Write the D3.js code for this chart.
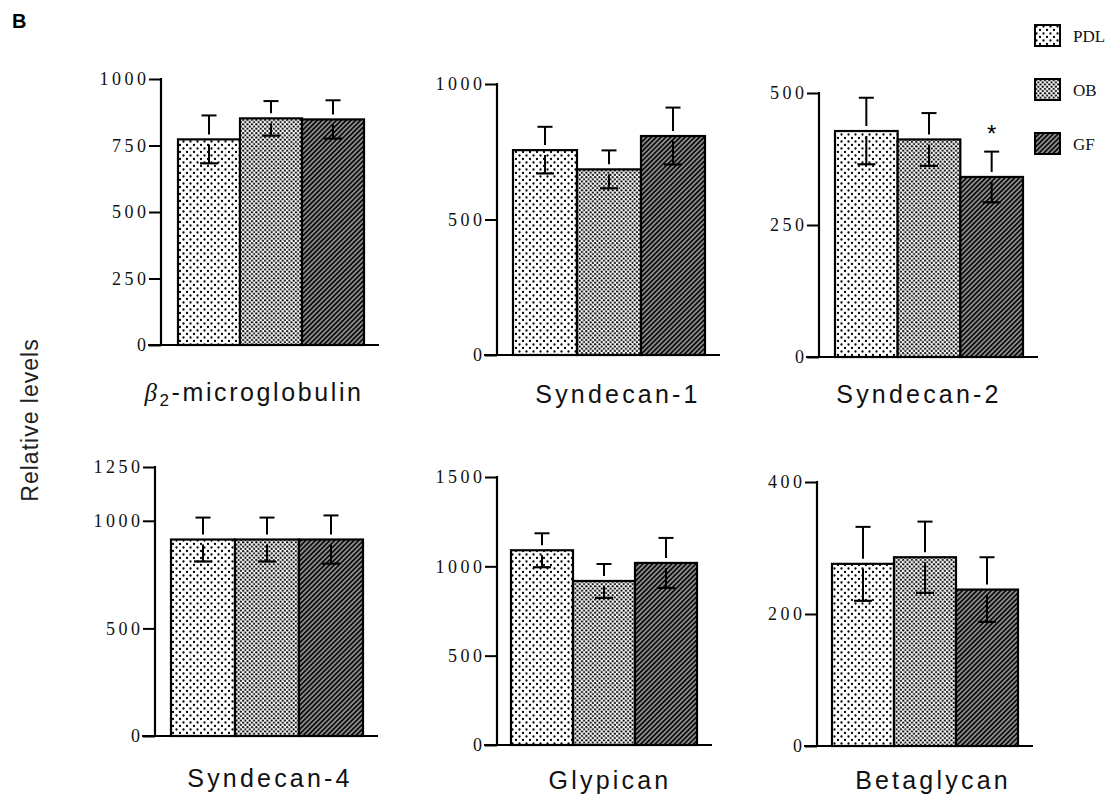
<!DOCTYPE html>
<html>
<head>
<meta charset="utf-8">
<script src="https://cdn.jsdelivr.net/npm/d3@7"></script>
<style>
  body { margin: 0; background: #fff; }
  svg { display: block; }
  .tick-label { font-family: "Liberation Serif", serif; font-size: 18px; letter-spacing: 3.5px; fill: #111; }
  .cat-label { font-family: "Liberation Sans", Arial, sans-serif; font-size: 25px; letter-spacing: 3.2px; fill: #111; }
  .legend-label { font-family: "Liberation Serif", serif; font-size: 17px; fill: #111; }
</style>
</head>
<body>
<svg width="1116" height="797"></svg>
<script>
// Data
const genes = ["β2-microglobulin", "Syndecan-1", "Syndecan-2", "Syndecan-4", "Glypican", "Betaglycan"];
const groups = ["PDL", "OB", "GF"];
const pdl = [773, 756, 428, 913, 1090, 276];
const ob = [852, 685, 412, 913, 918, 286];
const gf = [848, 808, 341, 913, 1019, 237];
const pdlErr = [90, 86, 63, 102, 95, 56];
const obErr = [65, 70, 50, 102, 95, 54];
const gfErr = [72, 105, 48, 112, 140, 49];
const yMax = [1000, 1000, 500, 1250, 1500, 400];
const yTicks = [
    [0, 250, 500, 750, 1000],
    [0, 500, 1000],
    [0, 250, 500],
    [0, 500, 1000, 1250],
    [0, 500, 1000, 1500],
    [0, 200, 400]
];
const starred = [[], [], ["GF"], [], [], []];

// Panel geometry (pixels)
const panels = [
    {axisX: 161, y0: 345, yTop: 79,  barX0: 178, barX1: 364, labelX: 254, labelY: 401},
    {axisX: 497, y0: 355, yTop: 84,  barX0: 513, barX1: 705, labelX: 618, labelY: 403},
    {axisX: 819, y0: 357, yTop: 93,  barX0: 835, barX1: 1023, labelX: 919, labelY: 403},
    {axisX: 155, y0: 736, yTop: 467, barX0: 171, barX1: 363, labelX: 270, labelY: 787},
    {axisX: 497, y0: 745, yTop: 477, barX0: 511, barX1: 697, labelX: 610, labelY: 789},
    {axisX: 817, y0: 746, yTop: 482, barX0: 832, barX1: 1018, labelX: 933, labelY: 789}
];

const svg = d3.select("svg");
const defs = svg.append("defs");

// fill patterns
const pPdl = defs.append("pattern").attr("id", "pat-PDL")
    .attr("patternUnits", "userSpaceOnUse").attr("width", 7).attr("height", 7);
pPdl.append("rect").attr("width", 7).attr("height", 7).attr("fill", "#fff");
pPdl.append("circle").attr("cx", 1.5).attr("cy", 1.5).attr("r", 1.15).attr("fill", "#000");
pPdl.append("circle").attr("cx", 5).attr("cy", 5).attr("r", 1.15).attr("fill", "#000");

const pOb = defs.append("pattern").attr("id", "pat-OB")
    .attr("patternUnits", "userSpaceOnUse").attr("width", 4.4).attr("height", 4.4);
pOb.append("rect").attr("width", 4.4).attr("height", 4.4).attr("fill", "#fff");
pOb.append("circle").attr("cx", 1.1).attr("cy", 1.1).attr("r", 1.1).attr("fill", "#000");
pOb.append("circle").attr("cx", 3.3).attr("cy", 3.3).attr("r", 1.1).attr("fill", "#000");

const pGf = defs.append("pattern").attr("id", "pat-GF")
    .attr("patternUnits", "userSpaceOnUse").attr("width", 3.4).attr("height", 3.4)
    .attr("patternTransform", "rotate(45)");
pGf.append("rect").attr("width", 3.4).attr("height", 3.4).attr("fill", "#0d0d0d");
pGf.append("line").attr("x1", 1.7).attr("x2", 1.7).attr("y1", 0).attr("y2", 3.4)
    .attr("stroke", "#fff").attr("stroke-width", 0.9);

const seriesVals = {PDL: pdl, OB: ob, GF: gf};
const seriesErr = {PDL: pdlErr, OB: obErr, GF: gfErr};

genes.forEach((gene, i) => {
    const p = panels[i];
    const g = svg.append("g");

    const x = d3.scaleBand().domain(groups).range([p.barX0, p.barX1]).padding(0);
    const y = d3.scaleLinear().domain([0, yMax[i]]).range([p.y0, p.yTop]);

    const rows = groups.map(k => ({group: k, value: seriesVals[k][i], err: seriesErr[k][i]}));

    // bars
    g.selectAll(".bar")
        .data(rows)
        .enter()
        .append("rect")
        .attr("x", d => x(d.group))
        .attr("y", d => y(d.value))
        .attr("width", x.bandwidth())
        .attr("height", d => p.y0 - y(d.value))
        .attr("fill", d => `url(#pat-${d.group})`)
        .attr("stroke", "#000")
        .attr("stroke-width", 2.2);

    // error bars, with a small gap around the bar top
    const gap = 5;
    rows.forEach(d => {
        const cx = x(d.group) + x.bandwidth() / 2;
        const yt = y(d.value + d.err), yb = y(d.value - d.err), ym = y(d.value);
        g.append("line").attr("x1", cx).attr("x2", cx).attr("y1", yt).attr("y2", ym - gap)
            .attr("stroke", "#000").attr("stroke-width", 2);
        g.append("line").attr("x1", cx - 7.5).attr("x2", cx + 7.5).attr("y1", yt).attr("y2", yt)
            .attr("stroke", "#000").attr("stroke-width", 2);
        g.append("line").attr("x1", cx).attr("x2", cx).attr("y1", ym + gap).attr("y2", yb)
            .attr("stroke", "#000").attr("stroke-width", 2);
        g.append("line").attr("x1", cx - 9).attr("x2", cx + 9).attr("y1", yb).attr("y2", yb)
            .attr("stroke", "#000").attr("stroke-width", 2.2);
        if (starred[i].includes(d.group)) {
            g.append("text").attr("x", cx).attr("y", yt - 10)
                .attr("text-anchor", "middle")
                .style("font-family", "Liberation Sans, sans-serif")
                .style("font-size", "24px")
                .text("*");
        }
    });

    // y axis
    const yAxis = d3.axisLeft(y).tickValues(yTicks[i]).tickSize(12).tickPadding(3).tickFormat(d3.format("d"));
    const ax = g.append("g").attr("transform", `translate(${p.axisX},0)`).call(yAxis);
    ax.select(".domain").remove();
    ax.selectAll(".tick line").attr("stroke", "#000").attr("stroke-width", 2);
    ax.selectAll(".tick text").attr("class", "tick-label").attr("dx", "3.5px");
    g.append("line")
        .attr("x1", p.axisX).attr("x2", p.axisX)
        .attr("y1", y(yMax[i]) - 1).attr("y2", p.y0)
        .attr("stroke", "#000").attr("stroke-width", 2.2);

    // baseline
    g.append("line")
        .attr("x1", p.axisX - 13).attr("x2", p.barX1 + 15)
        .attr("y1", p.y0).attr("y2", p.y0)
        .attr("stroke", "#000").attr("stroke-width", 2.2);

    // category label
    const lab = g.append("text").attr("class", "cat-label")
        .attr("x", p.labelX).attr("y", p.labelY).attr("text-anchor", "middle");
    if (gene.startsWith("β2")) {
        lab.style("letter-spacing", "2.6px");
        lab.append("tspan").style("font-family", "Liberation Serif, serif").style("font-style", "italic").text("β");
        lab.append("tspan").attr("dy", 5).style("font-size", "17px").text("2");
        lab.append("tspan").attr("dy", -5).text(gene.slice(2));
    } else {
        lab.text(gene);
    }
});

// y title
svg.append("text")
    .attr("transform", "translate(38,420) rotate(-90)")
    .attr("text-anchor", "middle")
    .style("font-family", "Liberation Sans, Arial, sans-serif")
    .style("font-size", "23px")
    .style("letter-spacing", "1px")
    .style("fill", "#222")
    .text("Relative levels");

// panel letter
svg.append("text")
    .attr("x", 12).attr("y", 28)
    .style("font-family", "Liberation Sans, Arial, sans-serif")
    .style("font-weight", "bold")
    .style("font-size", "20px")
    .text("B");

// legend
const legend = svg.append("g").attr("transform", "translate(1035,25)");
const legRow = legend.selectAll(".leg")
    .data(groups)
    .enter()
    .append("g")
    .attr("transform", (d, k) => `translate(0,${k * 54})`);
legRow.append("rect")
    .attr("width", 25).attr("height", 21)
    .attr("fill", d => `url(#pat-${d})`)
    .attr("stroke", "#000").attr("stroke-width", 2);
legRow.append("text")
    .attr("class", "legend-label")
    .attr("x", 38).attr("y", 17)
    .text(d => d);
</script>
</body>
</html>
